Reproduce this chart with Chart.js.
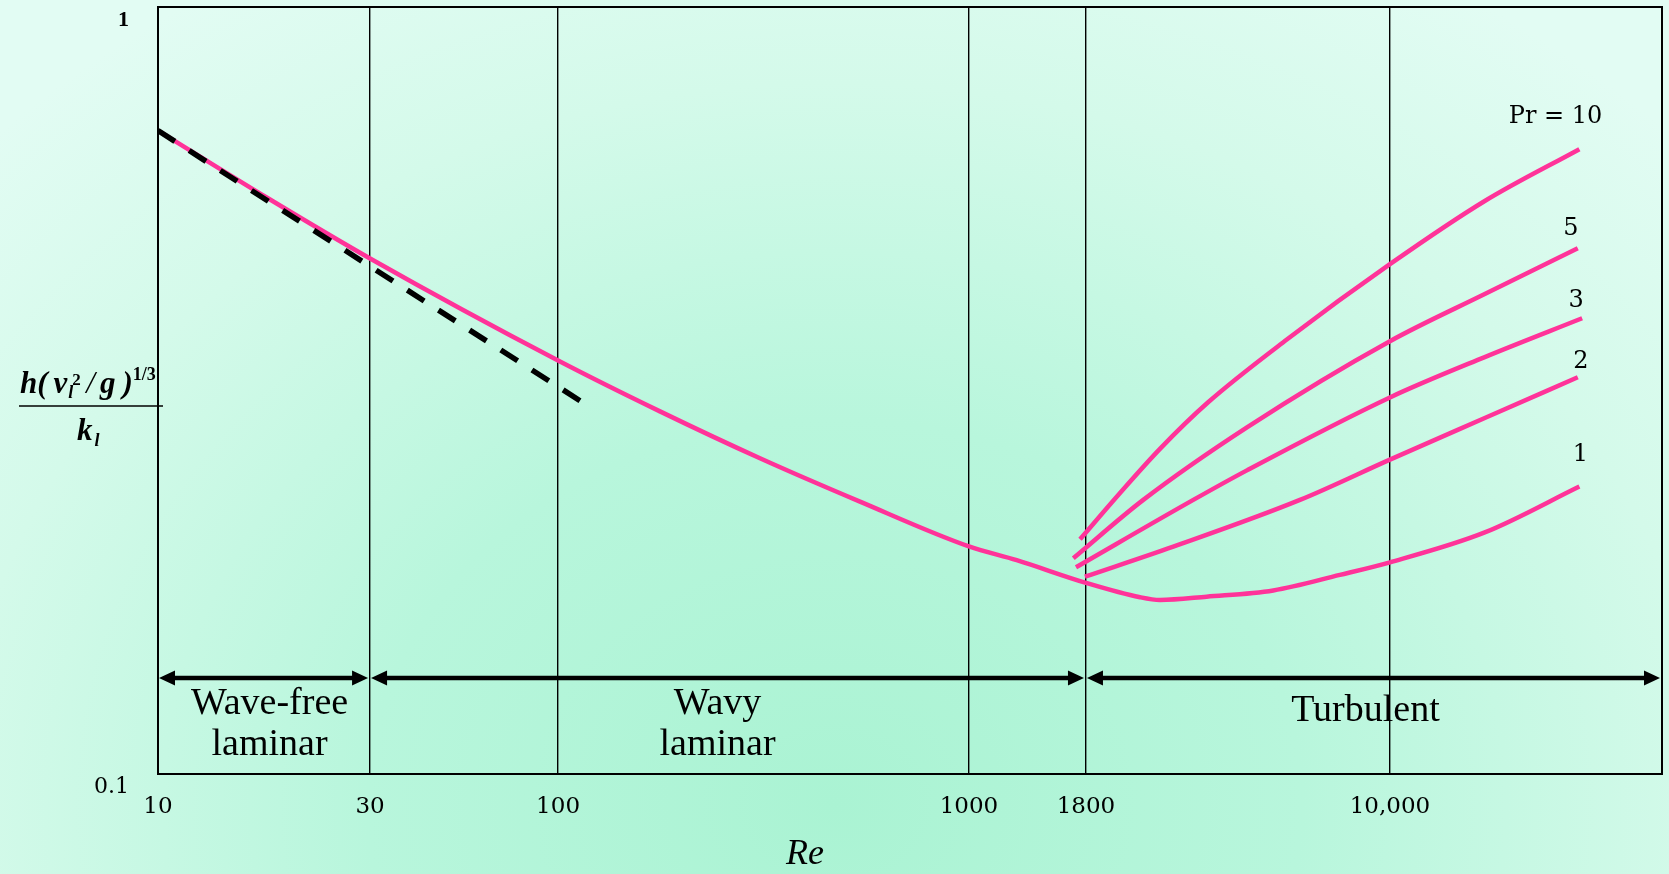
<!DOCTYPE html>
<html lang="en">
<head>
  <meta charset="UTF-8">
  <title>Film condensation heat transfer vs Re</title>
  <script src="https://cdn.jsdelivr.net/npm/chart.js"></script>
  <style>
    html, body { margin: 0; padding: 0; }
    body {
      width: 1669px; height: 874px; overflow: hidden;
      background: radial-gradient(ellipse 70% 110% at 50% 92%, #aaf3d3 0%, #b8f6dc 40%, #d4faea 75%, #e2fcf3 100%);
    }
    #wrap { position: relative; width: 1669px; height: 874px; }
  </style>
</head>
<body>
  <div id="wrap"><canvas id="condChart"></canvas></div>

  <script>
    // axis ticks
    const xTickValues = [10, 30, 100, 1000, 1800, 10000];
    const xTickLabels = ['10', '30', '100', '1000', '1800', '10,000'];
    const yTickValues = [0.1, 1];
    const yTickLabels = ['0.1', '1'];

    // the Re axis of the original sketch is not evenly logarithmic:
    // share of the axis length taken up to each stop
    const xAxisStops = [10, 30, 100, 1000, 1800, 10000, 46000];
    const xAxisShare = [0, 0.141, 0.266, 0.5392, 0.617, 0.8191, 1];

    // Nusselt laminar theory (dashed)
    const nusseltRe = [10, 116];
    const nusseltNu = [0.690, 0.304];

    // main curve: laminar / wavy laminar, then turbulent with Pr = 1
    const pr1Re = [10, 17.6, 30, 100, 177, 310, 543, 1000, 1271, 1800, 2441, 2733, 3556, 5178, 7542, 10000, 17024, 28940];
    const pr1Nu = [0.690, 0.564, 0.470, 0.346, 0.297, 0.258, 0.2265, 0.198, 0.190, 0.1775, 0.170, 0.1686, 0.1703, 0.1735, 0.1818, 0.1888, 0.2065, 0.237];

    // turbulent branches
    const pr2Re = [1790, 2946, 6019, 10000, 17024, 28680];
    const pr2Nu = [0.1808, 0.1979, 0.2277, 0.257, 0.2912, 0.329];
    const pr3Re = [1712, 3298, 4474, 10000, 17024, 29390];
    const pr3Nu = [0.186, 0.2277, 0.249, 0.3097, 0.3496, 0.3928];
    const pr5Re = [1689, 2487, 4474, 10000, 17024, 28680];
    const pr5Nu = [0.1911, 0.2277, 0.2833, 0.3667, 0.4225, 0.4846];
    const pr10Re = [1747, 2160, 2740, 3580, 5590, 10000, 17024, 28940];
    const pr10Nu = [0.2023, 0.2311, 0.2658, 0.305, 0.3685, 0.462, 0.5585, 0.6525];

    // flow regimes
    const regimeNames = [['Wave-free', 'laminar'], ['Wavy', 'laminar'], ['Turbulent']];
    const regimeFrom = [10, 30, 1800];
    const regimeTo = [30, 1800, 46000];
    const regimeTextShift = [6, -10, -8];

    // log scale that is piecewise stretched between the stops above
    class SketchLogScale extends Chart.LogarithmicScale {
      getPixelForValue(value) {
        if (value === undefined || value === null || isNaN(value) || value <= 0) return NaN;
        const lv = Math.log10(value);
        let i = 1;
        while (i < xAxisStops.length - 1 && lv > Math.log10(xAxisStops[i])) i++;
        const l0 = Math.log10(xAxisStops[i - 1]);
        const l1 = Math.log10(xAxisStops[i]);
        const t = (lv - l0) / (l1 - l0);
        return this.getPixelForDecimal(xAxisShare[i - 1] + t * (xAxisShare[i] - xAxisShare[i - 1]));
      }
      getValueForPixel(pixel) {
        const d = this.getDecimalForPixel(pixel);
        let i = 1;
        while (i < xAxisShare.length - 1 && d > xAxisShare[i]) i++;
        const t = (d - xAxisShare[i - 1]) / (xAxisShare[i] - xAxisShare[i - 1]);
        const l0 = Math.log10(xAxisStops[i - 1]);
        const l1 = Math.log10(xAxisStops[i]);
        return Math.pow(10, l0 + t * (l1 - l0));
      }
    }
    SketchLogScale.id = 'sketchLog';
    SketchLogScale.defaults = Chart.LogarithmicScale.defaults;
    Chart.register(SketchLogScale);

    const PINK = '#ff3399';
    const pts = (xs, ys) => xs.map((v, i) => ({ x: v, y: ys[i] }));

    function pinkLine(label, xs, ys, extra) {
      return Object.assign({
        label: label,
        data: pts(xs, ys),
        borderColor: PINK,
        borderWidth: 4.5,
        pointRadius: 0,
        cubicInterpolationMode: 'monotone',
        fill: false
      }, extra);
    }

    // y-axis fraction h(v_l^2/g)^(1/3) / k_l
    function drawYTitle(ctx) {
      const bi = s => 'italic bold ' + s + 'px "Liberation Serif"';
      const base = 393;
      let x = 20;
      const put = (t, font, dy) => {
        ctx.font = font;
        ctx.fillText(t, x, base + (dy || 0));
        x += ctx.measureText(t).width;
      };
      ctx.textAlign = 'left';
      ctx.textBaseline = 'alphabetic';
      put('h(', bi(31));
      x += 6;
      put('v', bi(31));
      const xs = x;
      ctx.font = bi(18);
      ctx.fillText('l', xs + 1, base + 5);
      ctx.font = 'bold 17px "Liberation Serif"';
      ctx.fillText('2', xs + 5, base - 8);
      x = xs + 19;
      put('/', 'italic 31px "Liberation Serif"');
      x += 5;
      put('g', bi(31));
      x += 7;
      put(')', bi(31));
      put('1/3', 'bold 18px "Liberation Serif"', -13);

      ctx.beginPath();
      ctx.lineWidth = 1.5;
      ctx.moveTo(19, 406);
      ctx.lineTo(163, 406);
      ctx.stroke();

      ctx.font = bi(31);
      ctx.fillText('k', 77, 440);
      const kw = ctx.measureText('k').width;
      ctx.font = bi(18);
      ctx.fillText('l', 77 + kw + 2, 446);
    }

    function drawArrow(ctx, x0, x1, yy) {
      const head = 16, half = 7.5;
      ctx.beginPath();
      ctx.lineWidth = 4.5;
      ctx.moveTo(x0 + head - 2, yy);
      ctx.lineTo(x1 - head + 2, yy);
      ctx.stroke();
      ctx.beginPath();
      ctx.moveTo(x0, yy);
      ctx.lineTo(x0 + head, yy - half);
      ctx.lineTo(x0 + head, yy + half);
      ctx.closePath();
      ctx.moveTo(x1, yy);
      ctx.lineTo(x1 - head, yy - half);
      ctx.lineTo(x1 - head, yy + half);
      ctx.closePath();
      ctx.fill();
    }

    const annotations = {
      id: 'annotations',
      afterDraw(chart) {
        const ctx = chart.ctx;
        const a = chart.chartArea;
        const x = chart.scales.x;
        ctx.save();
        ctx.fillStyle = '#000';
        ctx.strokeStyle = '#000';

        // plot frame
        ctx.lineWidth = 2;
        ctx.strokeRect(a.left, a.top, a.right - a.left, a.bottom - a.top);

        // regime arrows and names
        const ay = a.bottom - 96;
        ctx.textAlign = 'center';
        ctx.textBaseline = 'middle';
        ctx.font = '38px "Liberation Serif"';
        regimeFrom.forEach((from, i) => {
          const x0 = x.getPixelForValue(from) + 1;
          const x1 = Math.min(x.getPixelForValue(regimeTo[i]), a.right) - 2;
          drawArrow(ctx, x0, x1, ay);
          const cx = (x0 + x1) / 2 + regimeTextShift[i];
          const lines = regimeNames[i];
          if (lines.length === 2) {
            ctx.fillText(lines[0], cx, a.bottom - 70);
            ctx.fillText(lines[1], cx, a.bottom - 29);
          } else {
            ctx.fillText(lines[0], cx, a.bottom - 63);
          }
        });

        // Pr labels at curve ends
        ctx.font = '24px "DejaVu Serif"';
        chart.data.datasets.forEach((ds, i) => {
          if (!ds.endLabel) return;
          const meta = chart.getDatasetMeta(i);
          const p = meta.data[meta.data.length - 1];
          ctx.textAlign = ds.labelAlign || 'center';
          ctx.fillText(ds.endLabel, p.x + ds.labelDx, p.y + ds.labelDy);
        });

        // x-axis title
        ctx.textAlign = 'center';
        ctx.font = 'italic 36px "Liberation Serif"';
        ctx.fillText('Re', 805, 855);

        drawYTitle(ctx);
        ctx.restore();
      }
    };

    const ctx = document.getElementById('condChart').getContext('2d');
    new Chart(ctx, {
      type: 'line',
      data: {
        datasets: [
          {
            label: 'Nusselt',
            data: pts(nusseltRe, nusseltNu),
            borderColor: '#000',
            borderWidth: 5.5,
            borderDash: [20, 17],
            borderCapStyle: 'butt',
            pointRadius: 0,
            fill: false
          },
          pinkLine('Pr = 1', pr1Re, pr1Nu, { endLabel: '1', labelDx: 1, labelDy: -32 }),
          pinkLine('Pr = 2', pr2Re, pr2Nu, { endLabel: '2', labelDx: 3, labelDy: -16 }),
          pinkLine('Pr = 3', pr3Re, pr3Nu, { endLabel: '3', labelDx: -6, labelDy: -18 }),
          pinkLine('Pr = 5', pr5Re, pr5Nu, { endLabel: '5', labelDx: -7, labelDy: -20 }),
          pinkLine('Pr = 10', pr10Re, pr10Nu, { endLabel: 'Pr = 10', labelDx: 23, labelDy: -32, labelAlign: 'right' })
        ]
      },
      options: {
        responsive: true,
        maintainAspectRatio: false,
        animation: false,
        devicePixelRatio: 1,
        layout: { padding: { top: 7, right: 7, left: 0, bottom: 0 } },
        plugins: {
          legend: { display: false },
          tooltip: { enabled: false }
        },
        scales: {
          x: {
            type: 'sketchLog',
            min: 10,
            max: 46000,
            z: 1,
            border: { display: false },
            grid: { color: '#000', lineWidth: 1.4, drawTicks: false },
            ticks: {
              autoSkip: false,
              maxRotation: 0,
              padding: 19,
              color: '#000',
              font: { family: '"DejaVu Serif"', size: 23 },
              callback: (v, i) => xTickLabels[i]
            },
            afterBuildTicks: s => { s.ticks = xTickValues.map(v => ({ value: v })); },
            afterFit: s => { s.height = 100; s.paddingLeft = 0; s.paddingRight = 0; }
          },
          y: {
            type: 'logarithmic',
            min: 0.1,
            max: 1,
            border: { display: false },
            grid: { display: false, drawTicks: false },
            ticks: {
              padding: 29,
              labelOffset: 13,
              color: '#000',
              font: c => (c.tick && c.tick.value === 1)
                ? { family: '"Liberation Serif"', size: 22, weight: 'bold' }
                : { family: '"DejaVu Serif"', size: 22 },
              callback: (v, i) => yTickLabels[i]
            },
            afterBuildTicks: s => { s.ticks = yTickValues.map(v => ({ value: v })); },
            afterFit: s => { s.width = 158; s.paddingTop = 0; s.paddingBottom = 0; }
          }
        }
      },
      plugins: [annotations]
    });
  </script>
</body>
</html>
